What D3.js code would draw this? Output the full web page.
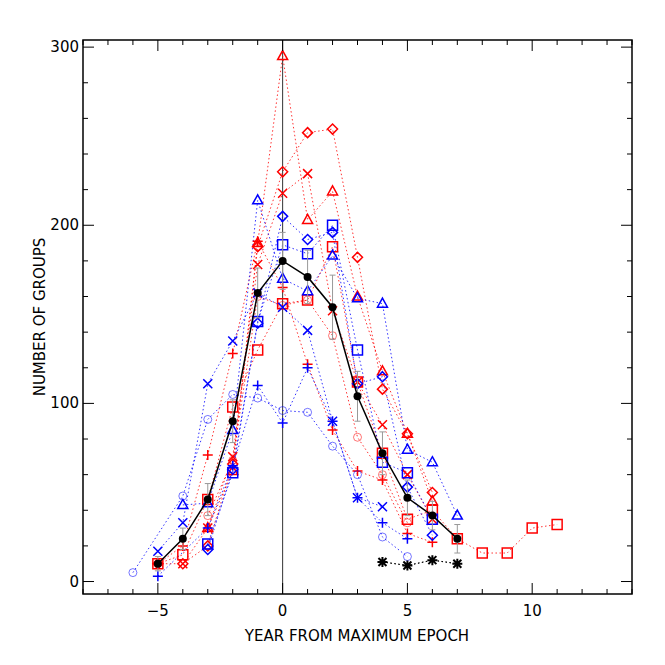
<!DOCTYPE html><html><head><script src="https://cdn.jsdelivr.net/npm/d3@7"></script>
<style>body{margin:0;background:#fff}text{font-family:"DejaVu Sans",sans-serif}</style></head><body><svg id="c" width="665" height="665"></svg>
<script>
const xTicks=[-5,0,5,10], yTicks=[0,100,200,300];
const series=[
 {c:"red",s:"tri",d:[[-3,30],[-2,62],[-1,190],[0,295],[1,203],[2,219],[3,160],[4,118],[5,83],[6,45]]},
 {c:"red",s:"dia",d:[[-5,10],[-4,10],[-3,20],[-2,66],[-1,188],[0,230],[1,252],[2,254],[3,182],[4,108],[5,83],[6,50]]},
 {c:"red",s:"x",d:[[-4,10],[-3,30],[-2,70],[-1,178],[0,218],[1,229],[2,152],[3,112],[4,88],[5,60],[6,35]]},
 {c:"red",s:"sq",d:[[-5,10],[-4,15],[-3,46],[-2,98],[-1,130],[0,156],[1,158],[2,188],[3,112],[4,72],[5,35],[6,40],[7,24],[8,16],[9,16],[10,30],[11,32]]},
 {c:"red",s:"plus",d:[[-5,10],[-4,20],[-3,71],[-2,128],[-1,191],[0,165],[1,122],[2,85],[3,62],[4,57],[5,27],[6,22]]},
 {c:"red",s:"circ",d:[[-3,37],[-2,68],[-1,160],[0,155],[1,158],[2,138],[3,81],[4,60],[5,33]]},
 {c:"blue",s:"tri",d:[[-4,43],[-3,44],[-2,85],[-1,214],[0,170],[1,163],[2,183],[3,159],[4,156],[5,74],[6,67],[7,37]]},
 {c:"blue",s:"dia",d:[[-3,18],[-2,63],[-1,145],[0,205],[1,192],[2,196],[3,111],[4,115],[5,53],[6,26]]},
 {c:"blue",s:"x",d:[[-5,17],[-4,33],[-3,111],[-2,135],[-1,162],[0,154],[1,141],[2,90],[3,47],[4,42]]},
 {c:"blue",s:"sq",d:[[-3,21],[-2,61],[-1,146],[0,189],[1,184],[2,200],[3,130],[4,67],[5,61],[6,35]]},
 {c:"blue",s:"plus",d:[[-5,3],[-3,30],[-2,65],[-1,110],[0,89],[1,120],[2,90],[3,47],[4,33],[5,24]]},
 {c:"blue",s:"circ",d:[[-6,5],[-4,48],[-3,91],[-2,105],[-1,103],[0,96],[1,95],[2,76],[3,60],[4,25],[5,14]]},
 {c:"black",s:"ast",d:[[4,11],[5,9],[6,12],[7,10]]}
];
const meanX=[-5,-4,-3,-2,-1,0,1,2,3,4,5,6,7];
const meanY=[10,24,46,90,162,180,171,154,104,72,47,37,24];
const meanErr=[4,6,9,12,14,16,15,18,14,12,10,8,8];
const svg=d3.select("#c");
const x=d3.scaleLinear().domain([-8,14]).range([83,632]);
const y=d3.scaleLinear().domain([-7,304]).range([594,40]);
const g=svg.append("g");
g.append("line").attr("x1",x(0)).attr("x2",x(0)).attr("y1",y(-7)).attr("y2",y(304)).attr("stroke","#333").attr("stroke-width",1);
const line=d3.line().x(d=>x(d[0])).y(d=>y(d[1]));
series.forEach(s=>{
 g.append("path").attr("d",line(s.d)).attr("fill","none").attr("stroke",s.c).attr("stroke-width",1).attr("stroke-dasharray","1.5,2.5").attr("opacity",0.8);
});
const shapes={
 tri:"M0,-5.5L5,3.5L-5,3.5Z",
 dia:"M0,-5L5,0L0,5L-5,0Z",
 sq:"M-5,-5H5V5H-5Z",
 circ:"M4,0A4,4 0 1,1 -4,0A4,4 0 1,1 4,0Z",
 plus:"M-5,0H5M0,-5V5",
 x:"M-4.5,-4.5L4.5,4.5M-4.5,4.5L4.5,-4.5",
 ast:"M-4,-4L4,4M-4,4L4,-4M-5,0H5M0,-5V5"
};
series.forEach(s=>{
 s.d.forEach(p=>{
  const e=g.append("path").attr("d",shapes[s.s]).attr("transform",`translate(${x(p[0])},${y(p[1])})`)
   .attr("fill","none").attr("stroke",s.c).attr("stroke-width",s.s=="ast"?2:1.5);
  if(s.s=="circ") e.attr("stroke-width",0.9).attr("opacity",0.6);
 });
});
g.append("path").attr("d",line(series[12].d)).attr("fill","none").attr("stroke","black").attr("stroke-dasharray","1.5,2.5");
meanX.forEach((v,i)=>{
 g.append("line").attr("x1",x(v)).attr("x2",x(v)).attr("y1",y(meanY[i]-meanErr[i])).attr("y2",y(meanY[i]+meanErr[i])).attr("stroke","#999");
 [meanY[i]-meanErr[i],meanY[i]+meanErr[i]].forEach(e=>g.append("line").attr("x1",x(v)-3).attr("x2",x(v)+3).attr("y1",y(e)).attr("y2",y(e)).attr("stroke","#999"));
});
g.append("path").attr("d",line(meanX.map((v,i)=>[v,meanY[i]]))).attr("fill","none").attr("stroke","black").attr("stroke-width",1.5);
meanX.forEach((v,i)=>g.append("circle").attr("cx",x(v)).attr("cy",y(meanY[i])).attr("r",4).attr("fill","black"));
svg.append("rect").attr("x",83).attr("y",40).attr("width",549).attr("height",554).attr("fill","none").attr("stroke","black").attr("stroke-width",1.5);
const ax=svg.append("g").attr("stroke","black");
d3.range(-8,15).forEach(v=>{const L=xTicks.includes(v)?11:5;
 ax.append("line").attr("x1",x(v)).attr("x2",x(v)).attr("y1",594).attr("y2",594-L);
 ax.append("line").attr("x1",x(v)).attr("x2",x(v)).attr("y1",40).attr("y2",40+L);});
d3.range(0,301,20).forEach(v=>{const L=yTicks.includes(v)?11:5;
 ax.append("line").attr("x1",83).attr("x2",83+L).attr("y1",y(v)).attr("y2",y(v));
 ax.append("line").attr("x1",632).attr("x2",632-L).attr("y1",y(v)).attr("y2",y(v));});
xTicks.forEach(v=>svg.append("text").attr("x",x(v)).attr("y",616).attr("text-anchor","middle").attr("font-size",15).text(v<0?"\u2212"+(-v):v));
yTicks.forEach(v=>svg.append("text").attr("x",79).attr("y",y(v)+5).attr("text-anchor","end").attr("font-size",15).text(v));
svg.append("text").attr("x",357).attr("y",641).attr("text-anchor","middle").attr("font-size",15).text("YEAR FROM MAXIMUM EPOCH");
svg.append("text").attr("transform","translate(45,317) rotate(-90)").attr("text-anchor","middle").attr("font-size",15).text("NUMBER OF GROUPS");
</script></body></html>
